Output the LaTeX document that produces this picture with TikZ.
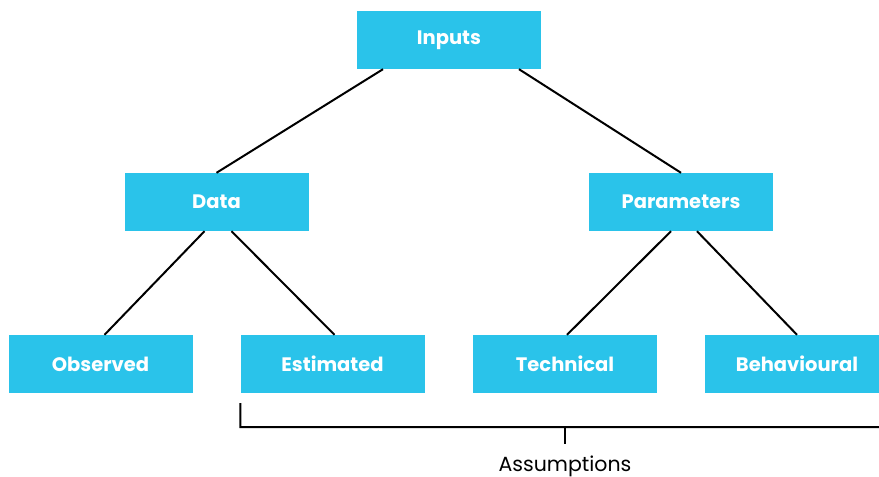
\documentclass[tikz,border=0pt]{standalone}
\usepackage{fontspec}
\setmainfont{Poppins}
\usepackage{xcolor}
\usetikzlibrary{positioning,calc}
\definecolor{boxblue}{HTML}{2AC3EA}

\begin{document}
\begin{tikzpicture}
[x=1pt,y=-1pt,node distance=162pt and 116pt,on grid,
 box/.style={fill=boxblue,text=white,font=\fontsize{19.5}{22}\selectfont\bfseries,
             minimum width=184pt,minimum height=58pt,inner sep=0pt},
 link/.style={line width=2pt,black}]

\useasboundingbox (0,0) rectangle (879,477);

\node [box] (inputs) at (449,40) {Inputs};
\node [box] (data) [below left=162pt and 232.5pt of inputs] {Data};
\node [box] (params) [below right=162pt and 232pt of inputs] {Parameters};
\node [box] (obs) [below left=of data] {Observed};
\node [box] (est) [below right=of data] {Estimated};
\node [box] (tech) [below left=of params] {Technical};
\node [box] (behav) [below right=of params] {Behavioural};

\draw [link] ($(inputs.south)+(-66,0)$) -- (data.north);
\draw [link] ($(inputs.south)+(70,0)$) -- (params.north);
\draw [link] ($(data.south)+(-12,0)$) -- ($(obs.north)+(4,0)$);
\draw [link] ($(data.south)+(15,0)$) -- ($(est.north)+(2,0)$);
\draw [link] ($(params.south)+(-10,0)$) -- ($(tech.north)+(2,0)$);
\draw [link] ($(params.south)+(16,0)$) -- ($(behav.north)+(0,0)$);

% bracket under the estimated values
\coordinate (b1) at ($(est.south west)+(0,11)$);
\coordinate (b2) at ($(b1)+(0,23)$);
\coordinate (b3) at (879,427);
\coordinate (tick) at (565,427);
\draw [link,line cap=rect] (b1) -- (b2) -- (b3);
\draw [link] (tick) -- ++(0,17);
\node [font=\fontsize{20.5}{24}\selectfont] (assume) at (565,466) {Assumptions};
\end{tikzpicture}
\end{document}
